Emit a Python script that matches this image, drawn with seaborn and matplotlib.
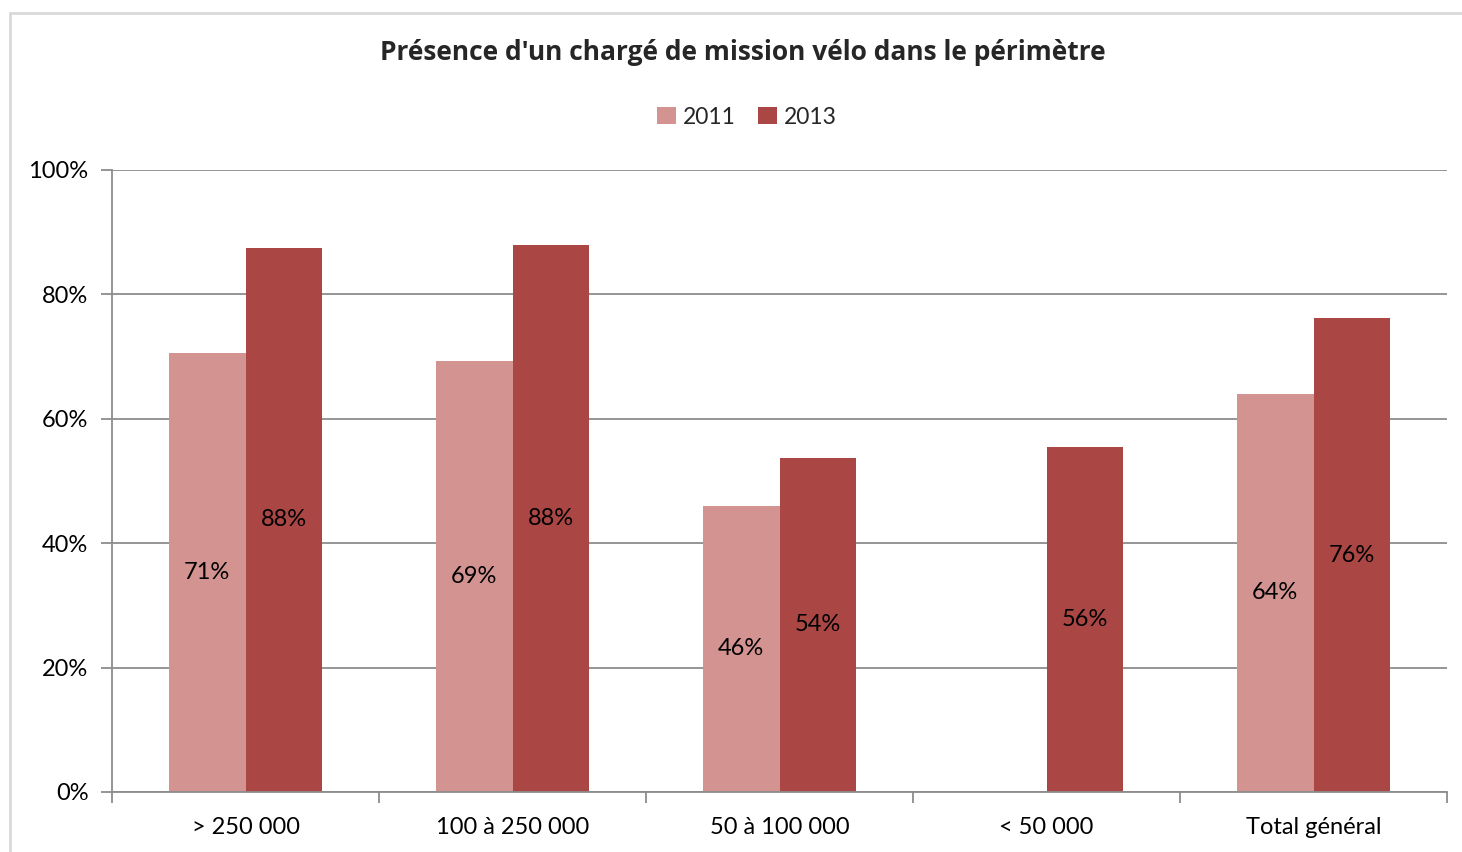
import numpy as np
import pandas as pd
import matplotlib
matplotlib.use("Agg")
import matplotlib.pyplot as plt
from matplotlib.lines import Line2D
from matplotlib.patches import Patch
from matplotlib.ticker import FuncFormatter, FixedLocator
import seaborn as sns

categories = ["> 250 000", "100 à 250 000", "50 à 100 000", "< 50 000", "Total général"]
years = ["2011", "2013"]
values_2011 = [70.6, 69.3, 46.0, np.nan, 64.0]
values_2013 = [87.5, 87.9, 53.7, 55.5, 76.2]
colors = ["#D39391", "#AA4744"]
title = "Présence d'un chargé de mission vélo dans le périmètre"

df = pd.DataFrame({
    "cat": categories * 2,
    "year": ["2011"] * 5 + ["2013"] * 5,
    "val": values_2011 + values_2013,
})

sns.set_theme(style="white")
plt.rcParams["font.family"] = ["Lato", "DejaVu Sans"]

fig = plt.figure(figsize=(14.62, 8.52), dpi=100)
ax = fig.add_axes([112/1462, 60/852, (1447-112)/1462, (792-170)/852])

sns.barplot(data=df, x="cat", y="val", hue="year", order=categories,
            hue_order=years, palette=colors, width=0.573, saturation=1,
            errorbar=None, ax=ax, legend=False, linewidth=0)

for cont in ax.containers:
    labels = ["" if np.isnan(v) else f"{v:.0f}%" for v in cont.datavalues]
    ax.bar_label(cont, labels=labels, label_type="center", fontsize=17, color="black")

ax.set_xlim(-0.5, 4.5)
ax.set_ylim(0, 100)
ax.set_yticks([0, 20, 40, 60, 80, 100])
ax.yaxis.set_major_formatter(FuncFormatter(lambda v, p: f"{v:.0f}%"))
ax.yaxis.grid(True, color="#8C8C8C", linewidth=1.3)
ax.set_axisbelow(True)
ax.set_xlabel("")
ax.set_ylabel("")

for s in ["top", "right"]:
    ax.spines[s].set_visible(False)
for s in ["left", "bottom"]:
    ax.spines[s].set_color("#8C8C8C")
    ax.spines[s].set_linewidth(1.3)

ax.tick_params(axis="y", which="major", left=True, length=8, width=1.3, color="#8C8C8C",
               labelsize=17, pad=9, labelcolor="black")
ax.tick_params(axis="x", which="major", bottom=False, length=0, labelsize=17, pad=18,
               labelcolor="black")
ax.xaxis.set_minor_locator(FixedLocator([-0.5, 0.5, 1.5, 2.5, 3.5, 4.5]))
ax.tick_params(axis="x", which="minor", bottom=True, length=8, width=1.3, color="#8C8C8C")

fig.text(743/1462, 1 - 53/852, title, ha="center", va="center", fontsize=19,
         fontweight="bold", family=["Open Sans", "DejaVu Sans"])

handles = [Patch(facecolor=c, edgecolor="none") for c in colors]
fig.legend(handles, years, loc="center", bbox_to_anchor=(747/1462, 1 - 117/852),
           ncol=2, frameon=False, fontsize=16.5, handlelength=0.8, handleheight=0.8,
           handletextpad=0.3, columnspacing=1.0)

# outer chart frame
fig.add_artist(Line2D([10/1462, 1.0], [1 - 13/852, 1 - 13/852], transform=fig.transFigure,
                      color="#D9D9D9", linewidth=2))
fig.add_artist(Line2D([10/1462, 10/1462], [0, 1 - 13/852], transform=fig.transFigure,
                      color="#D9D9D9", linewidth=2))

fig.savefig("out.png", dpi=100, facecolor="white")
